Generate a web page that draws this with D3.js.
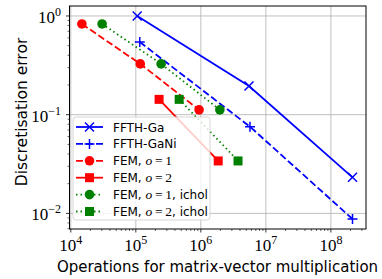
<!DOCTYPE html>
<html>
<head>
<meta charset="utf-8">
<script src="https://cdn.jsdelivr.net/npm/d3@7"></script>
<style>
  body { margin: 0; background: #fff; }
  svg { display: block; }
</style>
</head>
<body>
<svg id="chart"></svg>
<script>
// values
const ffthGaX = [1.05e5, 5.5e6, 2.15e8];
const ffthGaY = [1.0, 0.195, 0.0232];
const ffthGaNiX = [1.15e5, 5.7e6, 2.15e8];
const ffthGaNiY = [0.545, 0.0756, 0.00877];
const fem1X = [1.48e4, 1.17e5, 9.4e5];
const fem1Y = [0.83, 0.327, 0.112];
const fem2X = [2.28e5, 1.85e6];
const fem2Y = [0.143, 0.034];
const fem1IcholX = [3.03e4, 2.45e5, 1.96e6];
const fem1IcholY = [0.83, 0.327, 0.112];
const fem2IcholX = [4.64e5, 3.73e6];
const fem2IcholY = [0.143, 0.034];

const xTicks = [1e4, 1e5, 1e6, 1e7, 1e8];
const yTicks = [1, 0.1, 0.01];

const series = [
  { label: 'FFTH-Ga', x: ffthGaX, y: ffthGaY, color: 'blue', dash: null, marker: 'x' },
  { label: 'FFTH-GaNi', x: ffthGaNiX, y: ffthGaNiY, color: 'blue', dash: '7,3', marker: '+' },
  { label: 'FEM, ', order: '1', tail: '', x: fem1X, y: fem1Y, color: 'red', dash: '7,3', marker: 'o' },
  { label: 'FEM, ', order: '2', tail: '', x: fem2X, y: fem2Y, color: 'red', dash: null, marker: 's' },
  { label: 'FEM, ', order: '1', tail: ', ichol', x: fem1IcholX, y: fem1IcholY, color: 'green', dash: '1.5,3', marker: 'o' },
  { label: 'FEM, ', order: '2', tail: ', ichol', x: fem2IcholX, y: fem2IcholY, color: 'green', dash: '1.5,3', marker: 's' }
];

const width = 382, height = 279;
const svg = d3.select('#chart').attr('width', width).attr('height', height);

const x = d3.scaleLog().domain([Math.pow(10, 3.98), Math.pow(10, 8.54)]).range([69.5, 366]);
const y = d3.scaleLog().domain([Math.pow(10, 0.101), Math.pow(10, -2.158)]).range([6, 229]);

const sans = "'DejaVu Sans', sans-serif";
const serif = "'Liberation Serif', 'DejaVu Serif', serif";

// grid
const grid = svg.append('g');
grid.selectAll('.gx').data(xTicks).enter().append('line')
  .attr('x1', d => x(d)).attr('x2', d => x(d))
  .attr('y1', y.range()[0]).attr('y2', y.range()[1])
  .attr('stroke', '#b0b0b0').attr('stroke-width', 0.8);
grid.selectAll('.gy').data(yTicks).enter().append('line')
  .attr('y1', d => y(d)).attr('y2', d => y(d))
  .attr('x1', x.range()[0]).attr('x2', x.range()[1])
  .attr('stroke', '#b0b0b0').attr('stroke-width', 0.8);

// minor ticks
const minorX = [];
for (let e = 3; e <= 8; e++) for (let m = 2; m <= 9; m++) {
  const v = m * Math.pow(10, e);
  if (v > x.domain()[0] && v < x.domain()[1]) minorX.push(v);
}
const minorY = [];
for (let e = -3; e <= 0; e++) for (let m = 2; m <= 9; m++) {
  const v = m * Math.pow(10, e);
  if (v < y.domain()[0] && v > y.domain()[1]) minorY.push(v);
}

const axisG = svg.append('g');
axisG.selectAll('.mx').data(minorX).enter().append('line')
  .attr('x1', d => x(d)).attr('x2', d => x(d))
  .attr('y1', 229).attr('y2', 231).attr('stroke', '#000').attr('stroke-width', 0.6);
axisG.selectAll('.my').data(minorY).enter().append('line')
  .attr('y1', d => y(d)).attr('y2', d => y(d))
  .attr('x1', 69.5).attr('x2', 67.5).attr('stroke', '#000').attr('stroke-width', 0.6);
axisG.selectAll('.Mx').data(xTicks).enter().append('line')
  .attr('x1', d => x(d)).attr('x2', d => x(d))
  .attr('y1', 229).attr('y2', 232.5).attr('stroke', '#000').attr('stroke-width', 0.8);
axisG.selectAll('.My').data(yTicks).enter().append('line')
  .attr('y1', d => y(d)).attr('y2', d => y(d))
  .attr('x1', 69.5).attr('x2', 66).attr('stroke', '#000').attr('stroke-width', 0.8);

const expOf = d => Math.round(Math.log10(d));
const minus = n => (n < 0 ? '\u2212' + (-n) : '' + n);

// x tick labels
const xl = axisG.selectAll('.xl').data(xTicks).enter().append('text')
  .attr('x', d => x(d)).attr('y', 251)
  .attr('text-anchor', 'middle')
  .attr('font-family', serif).attr('font-size', 17);
xl.append('tspan').text('10');
xl.append('tspan').attr('dy', -7).attr('font-size', 12).text(d => minus(expOf(d)));

// y tick labels
const yl = axisG.selectAll('.yl').data(yTicks).enter().append('text')
  .attr('x', 61).attr('y', d => y(d) + 7)
  .attr('text-anchor', 'end')
  .attr('font-family', serif).attr('font-size', 17);
yl.append('tspan').text('10');
yl.append('tspan').attr('dy', -7).attr('font-size', 12).text(d => minus(expOf(d)));

// axis labels
svg.append('text').attr('x', 217.5).attr('y', 272).attr('text-anchor', 'middle')
  .attr('font-family', sans).attr('font-size', 15)
  .text('Operations for matrix-vector multiplication');
svg.append('text').attr('transform', 'translate(27,112) rotate(-90)').attr('text-anchor', 'middle')
  .attr('font-family', sans).attr('font-size', 15.5)
  .text('Discretisation error');

// marker drawing
function drawMarker(g, type, color) {
  if (type === 'x') {
    g.append('path').attr('d', 'M-4.5,-4.5L4.5,4.5M-4.5,4.5L4.5,-4.5')
      .attr('stroke', color).attr('stroke-width', 1.5).attr('fill', 'none');
  } else if (type === '+') {
    g.append('path').attr('d', 'M-5,0L5,0M0,-5L0,5')
      .attr('stroke', color).attr('stroke-width', 1.5).attr('fill', 'none');
  } else if (type === 'o') {
    g.append('circle').attr('r', 4.8).attr('fill', color);
  } else if (type === 's') {
    g.append('rect').attr('x', -4.5).attr('y', -4.5).attr('width', 9).attr('height', 9).attr('fill', color);
  }
}

const plot = svg.append('g');
const line = d3.line().x(d => x(d[0])).y(d => y(d[1]));
series.forEach(s => {
  const pts = s.x.map((v, i) => [v, s.y[i]]);
  plot.append('path').datum(pts).attr('d', line)
    .attr('fill', 'none').attr('stroke', s.color).attr('stroke-width', 1.8)
    .attr('stroke-dasharray', s.dash);
  pts.forEach(p => {
    const g = plot.append('g').attr('transform', `translate(${x(p[0])},${y(p[1])})`);
    drawMarker(g, s.marker, s.color);
  });
});

// spines
svg.append('rect').attr('x', 69.5).attr('y', 6).attr('width', 366 - 69.5).attr('height', 223)
  .attr('fill', 'none').attr('stroke', '#000').attr('stroke-width', 1);

// legend
const lg = svg.append('g');
lg.append('rect').attr('x', 73).attr('y', 117).attr('width', 137).attr('height', 103)
  .attr('rx', 3).attr('fill', 'rgba(255,255,255,0.8)').attr('stroke', '#cccccc').attr('stroke-width', 0.8);
series.forEach((s, i) => {
  const cy = 127 + i * 16.9;
  const g = lg.append('g').attr('transform', `translate(0,${cy})`);
  g.append('line').attr('x1', 76).attr('x2', 103).attr('y1', 0).attr('y2', 0)
    .attr('stroke', s.color).attr('stroke-width', 1.8).attr('stroke-dasharray', s.dash);
  const mg = g.append('g').attr('transform', 'translate(89.5,0)');
  drawMarker(mg, s.marker, s.color);
  const t = g.append('text').attr('x', 113).attr('y', 4.5)
    .attr('font-family', sans).attr('font-size', 12);
  t.append('tspan').text(s.label);
  if (s.order) {
    t.append('tspan').attr('font-family', serif).attr('font-size', 13.5).attr('font-style', 'italic').text('o');
    t.append('tspan').attr('font-family', serif).attr('font-size', 13.5).text('\u2009=\u2009' + s.order);
    t.append('tspan').text(s.tail);
  }
});
</script>
</body>
</html>
